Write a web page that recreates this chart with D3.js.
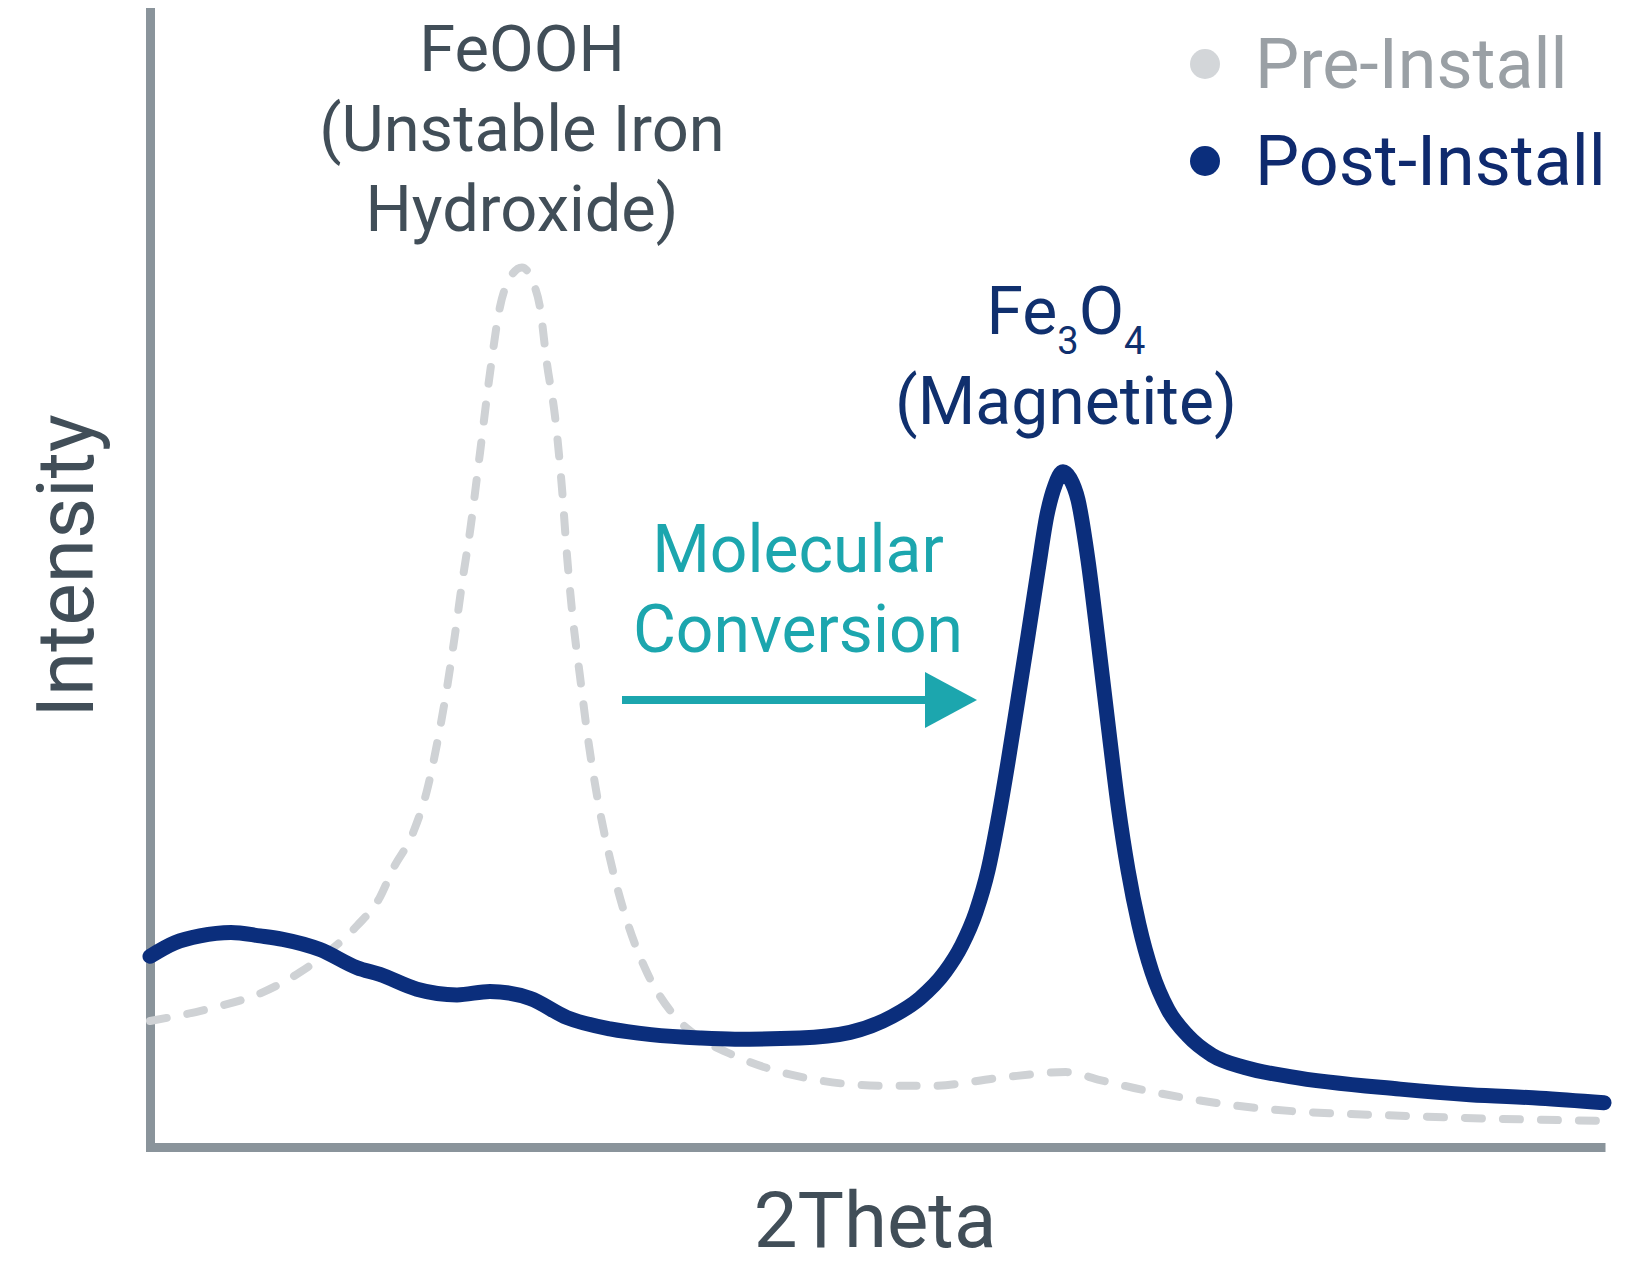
<!DOCTYPE html>
<html>
<head>
<meta charset="utf-8">
<script src="https://cdn.jsdelivr.net/npm/d3@7"></script>
<style>
  body { margin: 0; background: #fff; }
  text { font-family: Roboto, "Open Sans", sans-serif; }
</style>
</head>
<body>
<svg id="chart"></svg>
<script>
// 2Theta (deg) vs intensity (a.u.)
const postTheta = [10.00, 11.03, 12.06, 13.34, 14.54, 15.48, 17.01, 18.54, 19.48, 21.01,
    22.66, 24.02, 25.67, 27.20, 28.97, 30.66, 32.68, 34.12, 36.80, 38.87,
    40.60, 41.75, 42.78, 43.48, 44.06, 44.56, 44.97, 45.38, 45.79, 46.21,
    46.62, 46.99, 47.32, 47.65, 47.94, 48.27, 48.68, 49.09, 49.51, 49.92,
    50.33, 50.78, 51.32, 51.98, 52.80, 53.79, 55.15, 57.01, 61.55, 64.43,
    67.32, 69.96];
const postIntensity = [168, 180, 186, 189, 186, 183, 174, 158, 152, 139,
    134, 137, 131, 114, 104, 99, 96, 95, 96, 101,
    115, 131, 154, 178, 207, 244, 288, 339, 394, 451,
    508, 557, 583, 595, 589, 570, 517, 447, 372, 301,
    244, 196, 154, 121, 98, 81, 70, 62, 51, 46,
    43, 39];

const preTheta = [10.00, 12.47, 14.62, 16.19, 17.42, 18.54, 19.48, 20.02, 20.85, 21.42,
    21.88, 22.25, 22.58, 22.87, 23.20, 23.61, 24.02, 24.43, 24.85, 25.34,
    25.79, 26.08, 26.37, 26.70, 26.99, 27.20, 27.44, 27.73, 28.06, 28.43,
    28.97, 29.67, 30.49, 31.57, 32.68, 34.04, 36.80, 40.23, 42.29, 45.05,
    47.77, 49.18, 50.58, 53.30, 55.77, 62.25, 69.96];
const preIntensity = [111, 122, 136, 154, 173, 195, 220, 245, 277, 314,
    360, 405, 452, 497, 543, 612, 682, 740, 766, 775,
    762, 740, 690, 644, 580, 520, 465, 415, 360, 310,
    254, 199, 154, 117, 96, 81, 62, 54, 54, 61,
    66, 59, 52, 41, 34, 27, 23];

const seriesNames = ["Pre-Install", "Post-Install"];
const feoohLabel = ["FeOOH", "(Unstable Iron", "Hydroxide)"];
const conversionLabel = ["Molecular", "Conversion"];

const width = 1646, height = 1265;
const navy = "#0b2e7c", grey = "#cfd2d5", axisGrey = "#8a949b", ink = "#414e58", teal = "#1ca6ae";

const svg = d3.select("#chart").attr("width", width).attr("height", height);

const x = d3.scaleLinear().domain([10, 70]).range([150, 1605]);
const y = d3.scaleLinear().domain([0, 1000]).range([1147, 12]);

const post = postTheta.map((t, i) => ({ t, v: postIntensity[i] }));
const pre = preTheta.map((t, i) => ({ t, v: preIntensity[i] }));

const line = d3.line()
    .x(d => x(d.t))
    .y(d => y(d.v))
    .curve(d3.curveMonotoneX);

// axes: just the two grey lines, no ticks
svg.append("g")
    .attr("transform", `translate(0, ${y(0)})`)
    .call(d3.axisBottom(x).tickValues([]).tickSizeOuter(0))
    .select(".domain")
    .attr("stroke", axisGrey)
    .attr("stroke-width", 9);

svg.append("g")
    .attr("transform", `translate(${x(10)}, 0)`)
    .call(d3.axisLeft(y).tickValues([]).tickSizeOuter(0))
    .select(".domain")
    .attr("stroke", axisGrey)
    .attr("stroke-width", 9)
    .attr("stroke-linecap", "square");

svg.append("path")
    .datum(pre)
    .attr("d", line)
    .attr("fill", "none")
    .attr("stroke", grey)
    .attr("stroke-width", 8)
    .attr("stroke-linecap", "round")
    .attr("stroke-dasharray", "17 21");

svg.append("path")
    .datum(post)
    .attr("d", line)
    .attr("fill", "none")
    .attr("stroke", navy)
    .attr("stroke-width", 15)
    .attr("stroke-linejoin", "round")
    .attr("stroke-linecap", "round");

// axis titles
svg.append("text")
    .attr("x", 875).attr("y", 1247)
    .attr("text-anchor", "middle")
    .attr("font-size", 78)
    .attr("fill", ink)
    .text("2Theta");

svg.append("text")
    .attr("transform", "translate(93, 566) rotate(-90)")
    .attr("text-anchor", "middle")
    .attr("font-size", 80)
    .attr("fill", ink)
    .text("Intensity");

// FeOOH label
svg.append("g").selectAll("text")
    .data(feoohLabel)
    .join("text")
    .attr("x", 522)
    .attr("y", (d, i) => 71 + i * 80)
    .attr("text-anchor", "middle")
    .attr("font-size", 65)
    .attr("fill", ink)
    .text(d => d);

// Fe3O4 label
const fe = svg.append("text")
    .attr("x", 1066).attr("y", 334)
    .attr("text-anchor", "middle")
    .attr("font-size", 66)
    .attr("fill", "#10306e");
fe.append("tspan").text("Fe");
fe.append("tspan").attr("dy", 20).attr("font-size", 38).text("3");
fe.append("tspan").attr("dy", -20).text("O");
fe.append("tspan").attr("dy", 20).attr("font-size", 38).text("4");

svg.append("text")
    .attr("x", 1066).attr("y", 424)
    .attr("text-anchor", "middle")
    .attr("font-size", 66)
    .attr("fill", "#10306e")
    .text("(Magnetite)");

// conversion arrow
svg.append("g").selectAll("text")
    .data(conversionLabel)
    .join("text")
    .attr("x", 798)
    .attr("y", (d, i) => 572 + i * 80)
    .attr("text-anchor", "middle")
    .attr("font-size", 66)
    .attr("fill", teal)
    .text(d => d);

svg.append("line")
    .attr("x1", 622).attr("x2", 935)
    .attr("y1", 700).attr("y2", 700)
    .attr("stroke", teal)
    .attr("stroke-width", 8);

svg.append("path")
    .attr("d", "M925,672 L977,700 L925,728 Z")
    .attr("fill", teal);

// legend
const legend = svg.append("g")
    .selectAll("g")
    .data(seriesNames)
    .join("g")
    .attr("transform", (d, i) => `translate(1205, ${64 + i * 97})`);

legend.append("circle")
    .attr("r", 15)
    .attr("fill", (d, i) => i === 0 ? "#d3d6d9" : navy);

legend.append("text")
    .attr("x", 50)
    .attr("y", 24)
    .attr("font-size", 70)
    .attr("fill", (d, i) => i === 0 ? "#9aa0a5" : "#0f2a6e")
    .text(d => d);
</script>
</body>
</html>
